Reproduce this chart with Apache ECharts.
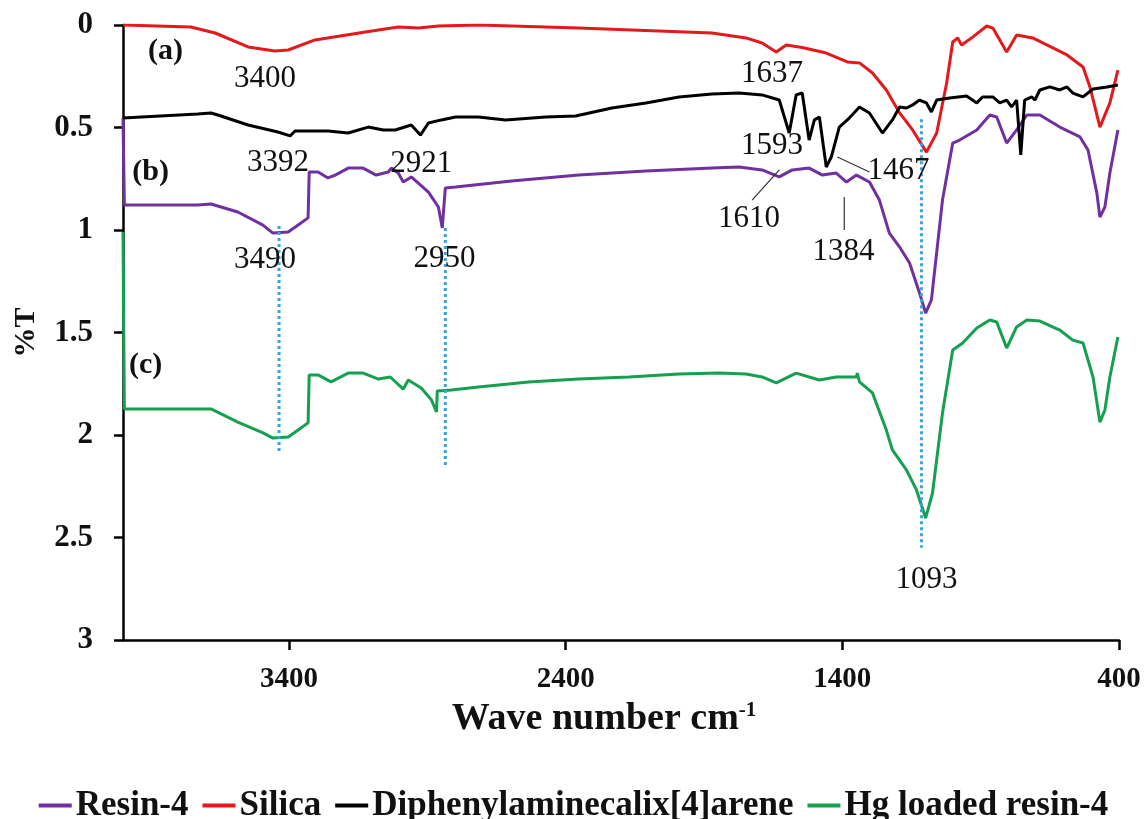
<!DOCTYPE html>
<html>
<head>
<meta charset="utf-8">
<style>
  html, body { margin: 0; padding: 0; background: #fff; }
  #chart { width: 1147px; height: 819px; }
</style>
<script src="https://cdn.jsdelivr.net/npm/echarts@6/dist/echarts.min.js"></script>
</head>
<body>
<div id="chart"></div>
<script>
// FT-IR spectra: wavenumber (cm-1) against %T (offset traces)
const SERIF = '"Liberation Serif", "Times New Roman", serif';

const xTicks = [400, 1400, 2400, 3400];

// Silica (red)
const silicaWn = [4000, 3755, 3667, 3548, 3451, 3403, 3306, 3124, 3005, 2932, 2860, 2715, 2353, 1871, 1748, 1690, 1639, 1603, 1545, 1458, 1382, 1338, 1291, 1241, 1193, 1146, 1096, 1059, 1023, 1001, 983, 969, 929, 878, 856, 806, 770, 712, 588, 530, 505, 469, 433, 404];
const silicaT  = [0, 0.01, 0.039, 0.107, 0.127, 0.122, 0.073, 0.034, 0.01, 0.015, 0.005, 0, 0.015, 0.039, 0.063, 0.088, 0.132, 0.098, 0.11, 0.137, 0.18, 0.185, 0.234, 0.317, 0.429, 0.512, 0.62, 0.527, 0.283, 0.083, 0.063, 0.098, 0.059, 0.005, 0.015, 0.132, 0.049, 0.063, 0.146, 0.205, 0.302, 0.498, 0.38, 0.22];

// Diphenylaminecalix[4]arene (black)
const calixWn = [4000, 3730, 3682, 3657, 3548, 3440, 3396, 3378, 3259, 3186, 3114, 3059, 3016, 2958, 2925, 2896, 2849, 2798, 2715, 2617, 2472, 2364, 2233, 2110, 1990, 1871, 1773, 1690, 1628, 1592, 1567, 1545, 1520, 1501, 1483, 1458, 1440, 1411, 1375, 1338, 1302, 1255, 1219, 1193, 1168, 1146, 1121, 1096, 1078, 1059, 1012, 951, 914, 893, 856, 831, 806, 788, 770, 755, 741, 715, 704, 686, 650, 614, 588, 567, 530, 494, 443, 404];
const calixT  = [0.454, 0.434, 0.429, 0.439, 0.488, 0.522, 0.541, 0.517, 0.517, 0.527, 0.498, 0.512, 0.512, 0.488, 0.537, 0.478, 0.463, 0.449, 0.449, 0.463, 0.449, 0.444, 0.405, 0.38, 0.351, 0.337, 0.332, 0.341, 0.366, 0.527, 0.341, 0.332, 0.561, 0.463, 0.449, 0.693, 0.644, 0.498, 0.454, 0.4, 0.429, 0.527, 0.463, 0.4, 0.405, 0.39, 0.366, 0.38, 0.424, 0.366, 0.356, 0.346, 0.38, 0.351, 0.351, 0.38, 0.366, 0.4, 0.366, 0.634, 0.366, 0.351, 0.366, 0.317, 0.302, 0.317, 0.302, 0.332, 0.351, 0.312, 0.302, 0.293];

// Resin-4 (purple)
const resinWn = [4000, 3995, 3730, 3682, 3585, 3494, 3458, 3403, 3367, 3331, 3327, 3295, 3259, 3233, 3186, 3132, 3085, 3041, 3030, 3005, 2987, 2958, 2896, 2860, 2846, 2835, 2798, 2596, 2353, 2110, 1871, 1773, 1690, 1628, 1581, 1520, 1472, 1422, 1385, 1349, 1302, 1266, 1230, 1193, 1157, 1121, 1099, 1078, 1038, 1001, 976, 914, 867, 842, 806, 770, 733, 686, 614, 541, 512, 480, 469, 451, 433, 404];
const resinT  = [0.454, 0.878, 0.878, 0.873, 0.912, 0.976, 1.015, 1.01, 0.976, 0.941, 0.717, 0.717, 0.746, 0.732, 0.698, 0.698, 0.732, 0.717, 0.698, 0.722, 0.766, 0.741, 0.815, 0.888, 0.99, 0.795, 0.79, 0.761, 0.732, 0.712, 0.698, 0.693, 0.707, 0.741, 0.707, 0.698, 0.732, 0.722, 0.766, 0.732, 0.766, 0.854, 1.015, 1.083, 1.161, 1.307, 1.405, 1.341, 0.854, 0.576, 0.561, 0.512, 0.439, 0.449, 0.576, 0.512, 0.439, 0.439, 0.498, 0.546, 0.61, 0.82, 0.937, 0.888, 0.722, 0.512];

// Hg loaded resin-4 (green)
const hgWn = [4000, 3995, 3730, 3682, 3585, 3494, 3458, 3403, 3367, 3331, 3327, 3295, 3248, 3186, 3132, 3077, 3034, 2987, 2969, 2922, 2885, 2867, 2864, 2813, 2715, 2534, 2353, 2172, 1990, 1846, 1748, 1690, 1639, 1567, 1483, 1422, 1349, 1346, 1338, 1291, 1241, 1219, 1168, 1132, 1099, 1074, 1038, 1001, 965, 914, 867, 842, 806, 770, 733, 686, 614, 567, 530, 494, 469, 451, 433, 404];
const hgT  = [1.01, 1.873, 1.873, 1.873, 1.937, 1.99, 2.015, 2.01, 1.976, 1.941, 1.707, 1.707, 1.741, 1.698, 1.698, 1.727, 1.717, 1.776, 1.732, 1.771, 1.829, 1.888, 1.785, 1.78, 1.766, 1.741, 1.727, 1.717, 1.702, 1.698, 1.702, 1.717, 1.746, 1.698, 1.732, 1.717, 1.717, 1.698, 1.741, 1.795, 1.976, 2.073, 2.171, 2.268, 2.405, 2.283, 1.893, 1.585, 1.551, 1.478, 1.439, 1.449, 1.576, 1.473, 1.439, 1.444, 1.488, 1.537, 1.551, 1.717, 1.937, 1.878, 1.717, 1.522];

// Dotted guides through the shared bands: [wavenumber, top %T, bottom %T]
const guideLines = [[3436, 0.98, 2.08], [2835, 0.99, 2.15], [1114, 0.46, 2.55]];

// Peak annotations: [text, wavenumber, %T, bold]
const peakLabels = [
  ['(a)', 3846, 0.13, true],
  ['3400', 3487, 0.263, false],
  ['3392', 3440, 0.673, false],
  ['(b)', 3900, 0.72, true],
  ['3490', 3487, 1.146, false],
  ['2921', 2922, 0.678, false],
  ['2950', 2838, 1.141, false],
  ['1637', 1654, 0.239, false],
  ['1593', 1654, 0.59, false],
  ['1610', 1737, 0.946, false],
  ['1384', 1396, 1.107, false],
  ['1467', 1197, 0.712, false],
  ['(c)', 3918, 1.659, true],
  ['1093', 1096, 2.707, false]
];

// Leader lines from labels to their bands
const leaderLines = [
  [[1726, 0.854], [1628, 0.707]],
  [[1418, 0.644], [1302, 0.717]],
  [[1393, 0.839], [1393, 1.0]]
];

function zip(xs, ys) { return xs.map((x, i) => [x, ys[i]]); }

function spectrum(name, color, xs, ys) {
  return {
    name: name, type: 'line', data: zip(xs, ys),
    showSymbol: false, symbol: 'none', smooth: false,
    lineStyle: { color: color, width: 3 }, itemStyle: { color: color },
    z: 3
  };
}

const series = [
  spectrum('Resin-4', '#7030A0', resinWn, resinT),
  spectrum('Silica', '#E3191C', silicaWn, silicaT),
  spectrum('Diphenylaminecalix[4]arene', '#000000', calixWn, calixT),
  spectrum('Hg loaded resin-4', '#14A04E', hgWn, hgT)
];

guideLines.forEach(g => {
  series.push({
    type: 'line', data: [[g[0], g[1]], [g[0], g[2]]], showSymbol: false, symbol: 'none',
    lineStyle: { color: '#3BA3DB', width: 3, type: [3, 3] }, z: 4, silent: true
  });
});

leaderLines.forEach(l => {
  series.push({
    type: 'line', data: l, showSymbol: false, symbol: 'none',
    lineStyle: { color: '#333333', width: 1.2 }, z: 4, silent: true
  });
});

series.push({
  type: 'scatter', symbolSize: 1, z: 5, silent: true,
  itemStyle: { color: 'rgba(0,0,0,0)', opacity: 1 },
  data: peakLabels.map(p => ({ value: [p[1], p[2]], text: p[0],
    label: { fontWeight: p[3] ? 'bold' : 'normal', fontSize: p[3] ? 30 : 31 } })),
  label: {
    show: true, position: 'inside', color: '#111111', opacity: 1,
    textBorderWidth: 0, textShadowBlur: 0, fontFamily: SERIF,
    formatter: p => p.data.text
  }
});

const chart = echarts.init(document.getElementById('chart'), null, { renderer: 'canvas' });
chart.setOption({
  animation: false,
  backgroundColor: '#ffffff',
  grid: { left: 123, right: 28, top: 25, bottom: 179, containLabel: false },
  legend: {
    data: ['Resin-4', 'Silica', 'Diphenylaminecalix[4]arene', 'Hg loaded resin-4'],
    left: 'center', top: 783,
    icon: 'rect', itemWidth: 33, itemHeight: 4, itemGap: 14,
    textStyle: { fontFamily: SERIF, fontWeight: 'bold', fontSize: 35, color: '#111', padding: [0, 0, 0, -1] }
  },
  xAxis: {
    type: 'value', inverse: true, min: 400, max: 4000, interval: 1000,
    name: 'Wave number cm{sup|-1}', nameLocation: 'middle', nameGap: 60,
    nameTextStyle: {
      fontFamily: SERIF, fontWeight: 'bold', fontSize: 38, color: '#111',
      padding: [0, 34, 0, 0],
      rich: { sup: { fontFamily: SERIF, fontWeight: 'bold', fontSize: 21, color: '#111', verticalAlign: 'top', padding: [0, 0, 14, 0] } }
    },
    axisLine: { show: true, onZero: false, lineStyle: { color: '#000', width: 2.5 } },
    axisTick: { show: true, length: 10, customValues: xTicks, lineStyle: { color: '#000', width: 2.5 } },
    axisLabel: {
      customValues: xTicks, margin: 25, fontFamily: SERIF, fontWeight: 'bold', fontSize: 29, color: '#111',
      formatter: v => String(v)
    },
    splitLine: { show: false }
  },
  yAxis: {
    type: 'value', inverse: true, min: 0, max: 3, interval: 0.5,
    name: '%T', nameLocation: 'middle', nameGap: 82, nameRotate: 90,
    nameTextStyle: { fontFamily: SERIF, fontWeight: 'bold', fontSize: 30, color: '#111' },
    axisLine: { show: true, onZero: false, lineStyle: { color: '#000', width: 2.5 } },
    axisTick: { show: true, length: 9, lineStyle: { color: '#000', width: 2.5 } },
    axisLabel: { margin: 30, fontFamily: SERIF, fontWeight: 'bold', fontSize: 31, color: '#111', formatter: v => String(v) },
    splitLine: { show: false }
  },
  series: series
});
</script>
</body>
</html>
